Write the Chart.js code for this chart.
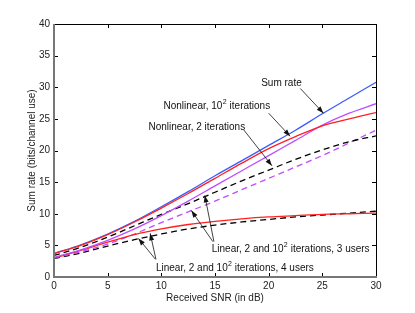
<!DOCTYPE html>
<html>
<head>
<meta charset="utf-8">
<script src="https://cdn.jsdelivr.net/npm/chart.js@4.4.1/dist/chart.umd.min.js"></script>
<style>
html, body { margin: 0; padding: 0; background: #fff; }
</style>
</head>
<body>
<canvas id="grafico" width="415" height="313"></canvas>
<script>
// Dati (SNR in dB, sum rate in bit/uso di canale)
const snr = [0, 2.5, 5, 7.5, 10, 12.5, 15, 17.5, 20, 22.5, 25, 27.5, 30];
const sumRate      = [3.7, 5.1, 6.8, 8.8, 11.1, 13.5, 16.0, 18.4, 20.8, 23.2, 25.8, 28.3, 30.8];
const nonlinRosso  = [3.7, 5.0, 6.7, 8.7, 10.9, 13.2, 15.6, 18.0, 20.3, 22.2, 23.9, 25.0, 26.0];
const nonlinViola  = [3.1, 4.3, 5.8, 7.6, 9.7, 12.0, 14.4, 16.8, 19.2, 21.6, 24.0, 25.9, 27.4];
const linNero3     = [3.4, 4.7, 6.3, 8.1, 9.9, 11.6, 13.4, 15.2, 16.9, 18.6, 20.1, 21.4, 22.3];
const linViola3    = [3.0, 4.0, 5.2, 6.8, 8.6, 10.3, 12.0, 13.8, 15.6, 17.4, 19.2, 21.2, 23.2];
const linRosso4    = [3.0, 4.2, 5.5, 6.7, 7.6, 8.3, 8.8, 9.2, 9.5, 9.7, 9.9, 10.0, 10.1];
const linNero4     = [2.9, 3.8, 4.9, 5.9, 6.8, 7.6, 8.2, 8.7, 9.1, 9.5, 9.8, 10.1, 10.4];

const tickX = [0, 5, 10, 15, 20, 25, 30];
const tickY = [0, 5, 10, 15, 20, 25, 30, 35, 40];

// Etichette con frecce (coordinate nei valori degli assi)
const etichette = [
    { testo: 'Sum rate', x: 19.3, y: 30.7, frecce: [[22.95, 29.8, 25.1, 25.9]] },
    { testo: 'Nonlinear, 10^2 iterations', x: 10.2, y: 27.0, frecce: [[20.0, 25.9, 22.0, 22.25]] },
    { testo: 'Nonlinear, 2 iterations', x: 8.8, y: 23.6, frecce: [[17.66, 23.3, 20.3, 17.6]] },
    { testo: 'Linear, 2 and 10^2 iterations, 3 users', x: 14.7, y: 4.35,
      frecce: [[14.9, 5.6, 14.05, 12.9], [14.8, 5.6, 12.8, 10.5]] },
    { testo: 'Linear, 2 and 10^2 iterations, 4 users', x: 9.5, y: 1.45,
      frecce: [[9.45, 2.8, 7.87, 6.1], [9.5, 2.8, 8.96, 6.9]] }
];

const FONT = '"Liberation Sans", Arial, Helvetica, sans-serif';

function punti(valori) {
    return snr.map((x, i) => ({ x: x, y: valori[i] }));
}

function serie(nome, valori, colore, tratteggio) {
    return {
        label: nome,
        data: punti(valori),
        borderColor: colore,
        borderWidth: 1.3,
        borderDash: tratteggio ? [6, 4] : [],
        pointRadius: 0,
        fill: false,
        cubicInterpolationMode: 'monotone'
    };
}

// Testo con un eventuale apice indicato da "^"
function scriviTesto(ctx, testo, x, y) {
    const parti = testo.split('^');
    ctx.font = '10px ' + FONT;
    ctx.fillText(parti[0], x, y);
    if (parti.length < 2) return;
    let px = x + ctx.measureText(parti[0]).width;
    ctx.font = '7px ' + FONT;
    ctx.fillText(parti[1][0], px + 0.3, y - 4);
    px += ctx.measureText(parti[1][0]).width + 0.5;
    ctx.font = '10px ' + FONT;
    ctx.fillText(parti[1].slice(1), px, y);
}

function freccia(ctx, x1, y1, x2, y2) {
    const ang = Math.atan2(y2 - y1, x2 - x1);
    ctx.beginPath();
    ctx.moveTo(x1, y1);
    ctx.lineTo(x2, y2);
    ctx.stroke();
    ctx.beginPath();
    ctx.moveTo(x2, y2);
    ctx.lineTo(x2 - 7 * Math.cos(ang) + 2.5 * Math.sin(ang), y2 - 7 * Math.sin(ang) - 2.5 * Math.cos(ang));
    ctx.lineTo(x2 - 7 * Math.cos(ang) - 2.5 * Math.sin(ang), y2 - 7 * Math.sin(ang) + 2.5 * Math.cos(ang));
    ctx.closePath();
    ctx.fill();
}

// Cornice, tacche interne e annotazioni
const cornice = {
    id: 'cornice',
    afterDraw(chart) {
        const { ctx, chartArea: a, scales: { x, y } } = chart;
        ctx.save();
        ctx.strokeStyle = '#000';
        ctx.lineWidth = 1;
        ctx.beginPath();
        tickX.forEach(v => {
            const px = Math.round(x.getPixelForValue(v)) + 0.5;
            ctx.moveTo(px, a.bottom); ctx.lineTo(px, a.bottom - 4);
            ctx.moveTo(px, a.top); ctx.lineTo(px, a.top + 4);
        });
        tickY.forEach(v => {
            const py = Math.round(y.getPixelForValue(v)) + 0.5;
            ctx.moveTo(a.left, py); ctx.lineTo(a.left + 4, py);
            ctx.moveTo(a.right, py); ctx.lineTo(a.right - 4, py);
        });
        ctx.stroke();

        ctx.beginPath();
        ctx.moveTo(a.left, a.top + 0.5);
        ctx.lineTo(a.right + 0.5, a.top + 0.5);
        ctx.lineTo(a.right + 0.5, a.bottom);
        ctx.stroke();
        ctx.strokeStyle = '#777';
        ctx.lineWidth = 2;
        ctx.beginPath();
        ctx.moveTo(a.left, a.top);
        ctx.lineTo(a.left, a.bottom);
        ctx.lineTo(a.right + 1, a.bottom);
        ctx.stroke();

        ctx.fillStyle = '#111';
        ctx.strokeStyle = '#111';
        ctx.lineWidth = 0.8;
        ctx.textBaseline = 'middle';
        ctx.textAlign = 'left';
        etichette.forEach(e => {
            scriviTesto(ctx, e.testo, x.getPixelForValue(e.x), y.getPixelForValue(e.y));
            e.frecce.forEach(f => {
                freccia(ctx, x.getPixelForValue(f[0]), y.getPixelForValue(f[1]),
                    x.getPixelForValue(f[2]), y.getPixelForValue(f[3]));
            });
        });
        ctx.restore();
    }
};

const ctx = document.getElementById('grafico').getContext('2d');
new Chart(ctx, {
    type: 'line',
    data: {
        datasets: [
            serie('Nonlinear, 10^2 iterations', nonlinRosso, '#ff2020', false),
            serie('Sum rate', sumRate, '#3a5cff', false),
            serie('Nonlinear (viola)', nonlinViola, '#bf4dff', false),
            serie('Linear, 4 users', linRosso4, '#ff2020', false),
            serie('Linear, 3 users', linNero3, '#000', true),
            serie('Linear, 3 users (viola)', linViola3, '#bf4dff', true),
            serie('Linear, 4 users (nero)', linNero4, '#000', true)
        ]
    },
    options: {
        responsive: false,
        animation: false,
        layout: { padding: { top: 24, right: 39, left: 0, bottom: 0 } },
        plugins: { legend: { display: false }, tooltip: { enabled: false } },
        scales: {
            x: {
                type: 'linear',
                min: 0,
                max: 30,
                afterFit: s => { s.height = 36; },
                afterBuildTicks: s => { s.ticks = tickX.map(v => ({ value: v })); },
                grid: { display: false, drawTicks: false },
                border: { display: false },
                ticks: { padding: 3, color: '#222', font: { family: FONT, size: 10 } },
                title: {
                    display: true,
                    text: 'Received SNR (in dB)',
                    color: '#222',
                    font: { family: FONT, size: 10 },
                    padding: { top: 0, bottom: 9 }
                }
            },
            y: {
                min: 0,
                max: 40,
                afterFit: s => { s.width = 54; },
                afterBuildTicks: s => { s.ticks = tickY.map(v => ({ value: v })); },
                grid: { display: false, drawTicks: false },
                border: { display: false },
                ticks: { padding: 4, color: '#222', font: { family: FONT, size: 10 } },
                title: {
                    display: true,
                    text: 'Sum rate (bits/channel use)',
                    color: '#222',
                    font: { family: FONT, size: 10 },
                    padding: { top: 26, bottom: 0 }
                }
            }
        }
    },
    plugins: [cornice]
});
</script>
</body>
</html>
